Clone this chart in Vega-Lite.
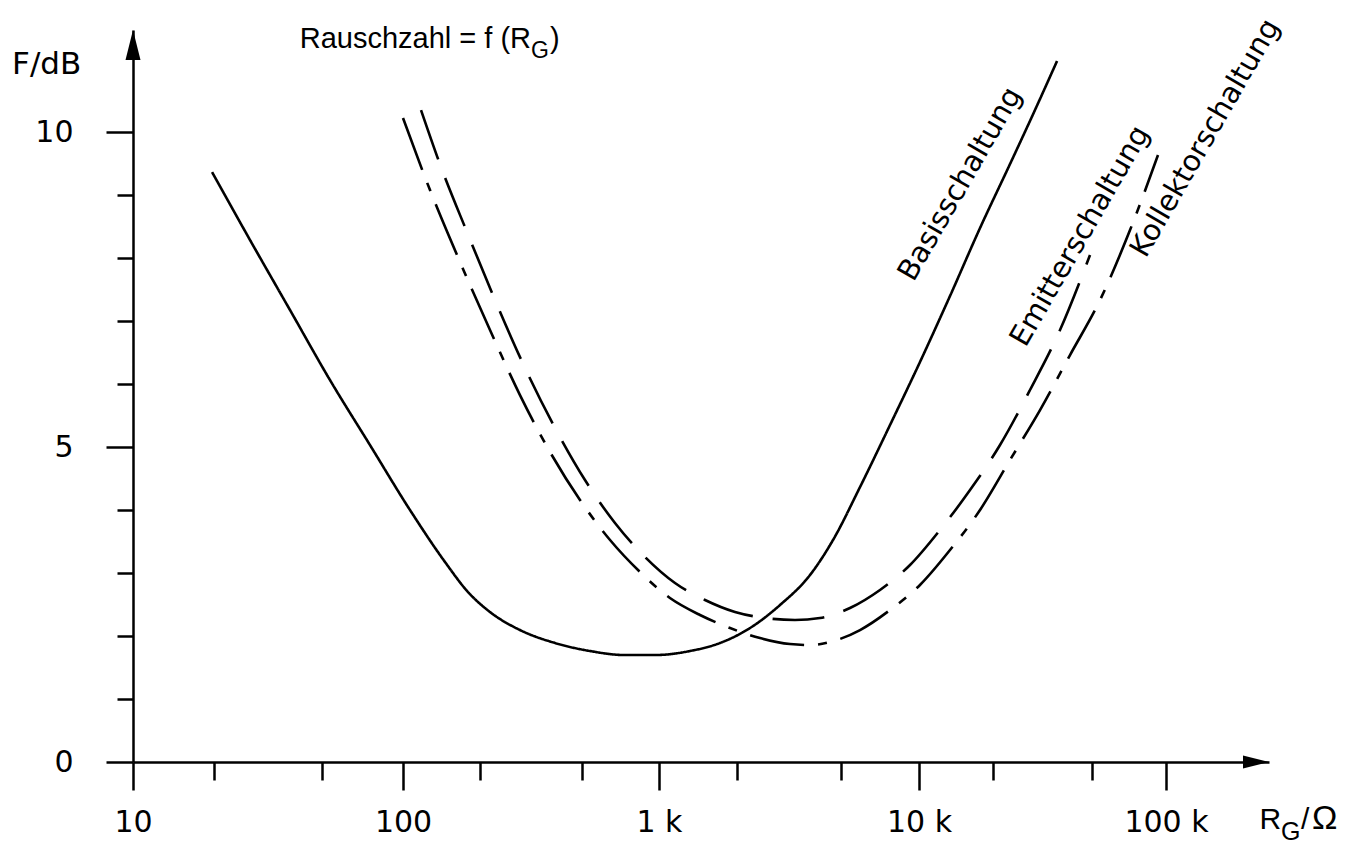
{
  "$schema": "https://vega.github.io/schema/vega-lite/v6.json",
  "width": 1136,
  "height": 732,
  "autosize": {"type": "none"},
  "padding": {"left": 133, "top": 30, "right": 81, "bottom": 92},
  "background": "white",
  "config": {
    "view": {"stroke": null},
    "axis": {"grid": false, "domainColor": "black", "tickColor": "black", "labelColor": "black", "labelFont": "DejaVu Sans", "labelFontSize": 30, "domainWidth": 2.5, "tickWidth": 2.5, "title": null}
  },
  "datasets": {
    "curves": [
      {"curve": "Basisschaltung", "R": 19.62, "F": 9.365},
      {"curve": "Basisschaltung", "R": 27.13, "F": 8.286},
      {"curve": "Basisschaltung", "R": 38.15, "F": 7.175},
      {"curve": "Basisschaltung", "R": 53.65, "F": 6.063},
      {"curve": "Basisschaltung", "R": 75.45, "F": 5.032},
      {"curve": "Basisschaltung", "R": 106.5, "F": 4.0},
      {"curve": "Basisschaltung", "R": 145.9, "F": 3.175},
      {"curve": "Basisschaltung", "R": 179.5, "F": 2.698},
      {"curve": "Basisschaltung", "R": 218.7, "F": 2.381},
      {"curve": "Basisschaltung", "R": 286.4, "F": 2.095},
      {"curve": "Basisschaltung", "R": 392.6, "F": 1.889},
      {"curve": "Basisschaltung", "R": 537.7, "F": 1.762},
      {"curve": "Basisschaltung", "R": 736.6, "F": 1.698},
      {"curve": "Basisschaltung", "R": 964.7, "F": 1.698},
      {"curve": "Basisschaltung", "R": 1316, "F": 1.762},
      {"curve": "Basisschaltung", "R": 1717, "F": 1.889},
      {"curve": "Basisschaltung", "R": 2239, "F": 2.127},
      {"curve": "Basisschaltung", "R": 2920, "F": 2.492},
      {"curve": "Basisschaltung", "R": 3808, "F": 2.968},
      {"curve": "Basisschaltung", "R": 4670, "F": 3.524},
      {"curve": "Basisschaltung", "R": 5932, "F": 4.365},
      {"curve": "Basisschaltung", "R": 7736, "F": 5.349},
      {"curve": "Basisschaltung", "R": 10090, "F": 6.349},
      {"curve": "Basisschaltung", "R": 13350, "F": 7.397},
      {"curve": "Basisschaltung", "R": 17660, "F": 8.476},
      {"curve": "Basisschaltung", "R": 23360, "F": 9.492},
      {"curve": "Basisschaltung", "R": 29480, "F": 10.349},
      {"curve": "Basisschaltung", "R": 36210, "F": 11.127},
      {"curve": "Emitterschaltung", "R": 117.6, "F": 10.349},
      {"curve": "Emitterschaltung", "R": 140.8, "F": 9.444},
      {"curve": "Emitterschaltung", "R": 177.8, "F": 8.413},
      {"curve": "Emitterschaltung", "R": 228.8, "F": 7.333},
      {"curve": "Emitterschaltung", "R": 299.7, "F": 6.254},
      {"curve": "Emitterschaltung", "R": 392.6, "F": 5.302},
      {"curve": "Emitterschaltung", "R": 513.9, "F": 4.476},
      {"curve": "Emitterschaltung", "R": 673.1, "F": 3.794},
      {"curve": "Emitterschaltung", "R": 881.7, "F": 3.254},
      {"curve": "Emitterschaltung", "R": 1152, "F": 2.841},
      {"curve": "Emitterschaltung", "R": 1503, "F": 2.571},
      {"curve": "Emitterschaltung", "R": 1960, "F": 2.381},
      {"curve": "Emitterschaltung", "R": 2556, "F": 2.286},
      {"curve": "Emitterschaltung", "R": 3335, "F": 2.254},
      {"curve": "Emitterschaltung", "R": 4161, "F": 2.286},
      {"curve": "Emitterschaltung", "R": 5427, "F": 2.444},
      {"curve": "Emitterschaltung", "R": 7079, "F": 2.73},
      {"curve": "Emitterschaltung", "R": 9235, "F": 3.127},
      {"curve": "Emitterschaltung", "R": 12160, "F": 3.683},
      {"curve": "Emitterschaltung", "R": 16090, "F": 4.317},
      {"curve": "Emitterschaltung", "R": 21280, "F": 5.032},
      {"curve": "Emitterschaltung", "R": 28140, "F": 5.905},
      {"curve": "Emitterschaltung", "R": 37230, "F": 6.857},
      {"curve": "Emitterschaltung", "R": 49250, "F": 8.048},
      {"curve": "Kollektorschaltung", "R": 100, "F": 10.222},
      {"curve": "Kollektorschaltung", "R": 127.5, "F": 9.079},
      {"curve": "Kollektorschaltung", "R": 167.0, "F": 7.937},
      {"curve": "Kollektorschaltung", "R": 218.7, "F": 6.857},
      {"curve": "Kollektorschaltung", "R": 286.4, "F": 5.825},
      {"curve": "Kollektorschaltung", "R": 375.2, "F": 4.921},
      {"curve": "Kollektorschaltung", "R": 491.3, "F": 4.159},
      {"curve": "Kollektorschaltung", "R": 643.8, "F": 3.524},
      {"curve": "Kollektorschaltung", "R": 843.1, "F": 3.016},
      {"curve": "Kollektorschaltung", "R": 1102, "F": 2.603},
      {"curve": "Kollektorschaltung", "R": 1438, "F": 2.333},
      {"curve": "Kollektorschaltung", "R": 1876, "F": 2.127},
      {"curve": "Kollektorschaltung", "R": 2446, "F": 1.968},
      {"curve": "Kollektorschaltung", "R": 3190, "F": 1.873},
      {"curve": "Kollektorschaltung", "R": 3808, "F": 1.857},
      {"curve": "Kollektorschaltung", "R": 4547, "F": 1.905},
      {"curve": "Kollektorschaltung", "R": 5932, "F": 2.095},
      {"curve": "Kollektorschaltung", "R": 7736, "F": 2.413},
      {"curve": "Kollektorschaltung", "R": 10090, "F": 2.81},
      {"curve": "Kollektorschaltung", "R": 13350, "F": 3.365},
      {"curve": "Kollektorschaltung", "R": 17660, "F": 4.0},
      {"curve": "Kollektorschaltung", "R": 23360, "F": 4.794},
      {"curve": "Kollektorschaltung", "R": 30900, "F": 5.587},
      {"curve": "Kollektorschaltung", "R": 40870, "F": 6.46},
      {"curve": "Kollektorschaltung", "R": 54060, "F": 7.333},
      {"curve": "Kollektorschaltung", "R": 71510, "F": 8.444},
      {"curve": "Kollektorschaltung", "R": 92810, "F": 9.635}
    ],
    "curveLabels": [
      {"text": "Basisschaltung", "R": 14660, "F": 9.175},
      {"text": "Emitterschaltung", "R": 44860, "F": 8.349},
      {"text": "Kollektorschaltung", "R": 143900, "F": 9.905}
    ],
    "one": [{}]
  },
  "layer": [
    {
      "data": {"name": "curves"},
      "mark": {"type": "line", "strokeWidth": 2.6, "color": "black", "interpolate": "monotone"},
      "encoding": {
        "x": {
          "field": "R", "type": "quantitative",
          "scale": {"type": "log", "domain": [10, 100, 1000, 10000, 100000, 261000], "range": [0, 270, 526, 786, 1033, 1136], "nice": false},
          "axis": {
            "values": [10, 20, 50, 100, 200, 500, 1000, 2000, 5000, 10000, 20000, 50000, 100000],
            "labelExpr": "datum.value == 10 ? '10' : datum.value == 100 ? '100' : datum.value == 1000 ? '1 k' : datum.value == 10000 ? '10 k' : datum.value == 100000 ? '100 k' : ''",
            "tickSize": {"condition": {"test": "indexof([10,100,1000,10000,100000], datum.value) >= 0", "value": 28}, "value": 18},
            "labelPadding": 17,
            "labelBaseline": "top",
            "labelFlush": false,
            "labelOverlap": false,
            "labelBound": false
          }
        },
        "y": {
          "field": "F", "type": "quantitative",
          "scale": {"domain": [0, 11.62], "nice": false, "zero": false},
          "axis": {
            "values": [0, 1, 2, 3, 4, 5, 6, 7, 8, 9, 10],
            "labelExpr": "datum.value % 5 == 0 ? '' + datum.value : ''",
            "tickSize": {"condition": {"test": "datum.value % 5 == 0", "value": 27}, "value": 16},
            "labelPadding": 33,
            "labelOverlap": false,
            "labelBound": false
          }
        },
        "detail": {"field": "curve"},
        "strokeDash": {
          "field": "curve", "type": "nominal",
          "scale": {"domain": ["Basisschaltung", "Emitterschaltung", "Kollektorschaltung"], "range": [[1, 0], [52, 20], [55, 14, 9, 14]]},
          "legend": null
        }
      }
    },
    {
      "data": {"name": "curveLabels"},
      "mark": {"type": "text", "angle": 300, "align": "center", "baseline": "middle", "font": "DejaVu Sans", "fontSize": 29, "color": "black"},
      "encoding": {
        "x": {"field": "R", "type": "quantitative"},
        "y": {"field": "F", "type": "quantitative"},
        "text": {"field": "text"}
      }
    },
    {
      "data": {"name": "one"},
      "mark": {"type": "text", "text": "Rauschzahl = f (R", "align": "right", "baseline": "alphabetic", "font": "Liberation Sans", "fontSize": 29, "color": "black"},
      "encoding": {"x": {"datum": 316.2}, "y": {"datum": 11.333}}
    },
    {
      "data": {"name": "one"},
      "mark": {"type": "text", "text": "G", "align": "left", "baseline": "alphabetic", "font": "Liberation Sans", "fontSize": 23, "dy": 10, "color": "black"},
      "encoding": {"x": {"datum": 316.2}, "y": {"datum": 11.333}}
    },
    {
      "data": {"name": "one"},
      "mark": {"type": "text", "text": ")", "align": "left", "baseline": "alphabetic", "font": "Liberation Sans", "fontSize": 29, "dx": 19, "color": "black"},
      "encoding": {"x": {"datum": 316.2}, "y": {"datum": 11.333}}
    },
    {
      "data": {"name": "one"},
      "mark": {"type": "text", "text": "F/dB", "align": "left", "baseline": "alphabetic", "font": "DejaVu Sans", "fontSize": 31, "color": "black"},
      "encoding": {"x": {"datum": 3.565}, "y": {"datum": 10.92}}
    },
    {
      "data": {"name": "one"},
      "mark": {"type": "text", "text": "R", "align": "right", "baseline": "alphabetic", "font": "Liberation Sans", "fontSize": 30, "color": "black"},
      "encoding": {"x": {"datum": 292200}, "y": {"datum": -1.063}}
    },
    {
      "data": {"name": "one"},
      "mark": {"type": "text", "text": "G", "align": "left", "baseline": "alphabetic", "font": "Liberation Sans", "fontSize": 25, "dy": 11, "color": "black"},
      "encoding": {"x": {"datum": 292200}, "y": {"datum": -1.063}}
    },
    {
      "data": {"name": "one"},
      "mark": {"type": "text", "text": "/", "align": "left", "baseline": "alphabetic", "font": "Liberation Sans", "fontSize": 30, "dx": 20, "color": "black"},
      "encoding": {"x": {"datum": 292200}, "y": {"datum": -1.063}}
    },
    {
      "data": {"name": "one"},
      "mark": {"type": "text", "text": "Ω", "align": "left", "baseline": "alphabetic", "font": "Liberation Sans", "fontSize": 34, "dx": 31, "color": "black"},
      "encoding": {"x": {"datum": 292200}, "y": {"datum": -1.063}}
    },
    {
      "data": {"name": "one"},
      "mark": {"type": "point", "shape": "M0,0L0.5,2L-0.5,2Z", "size": 900, "filled": true, "color": "black", "opacity": 1},
      "encoding": {"x": {"datum": 10}, "y": {"datum": 11.62}}
    },
    {
      "data": {"name": "one"},
      "mark": {"type": "point", "shape": "M0,0L-2,-0.5L-2,0.5Z", "size": 676, "filled": true, "color": "black", "opacity": 1},
      "encoding": {"x": {"datum": 261000}, "y": {"datum": 0}}
    }
  ]
}
